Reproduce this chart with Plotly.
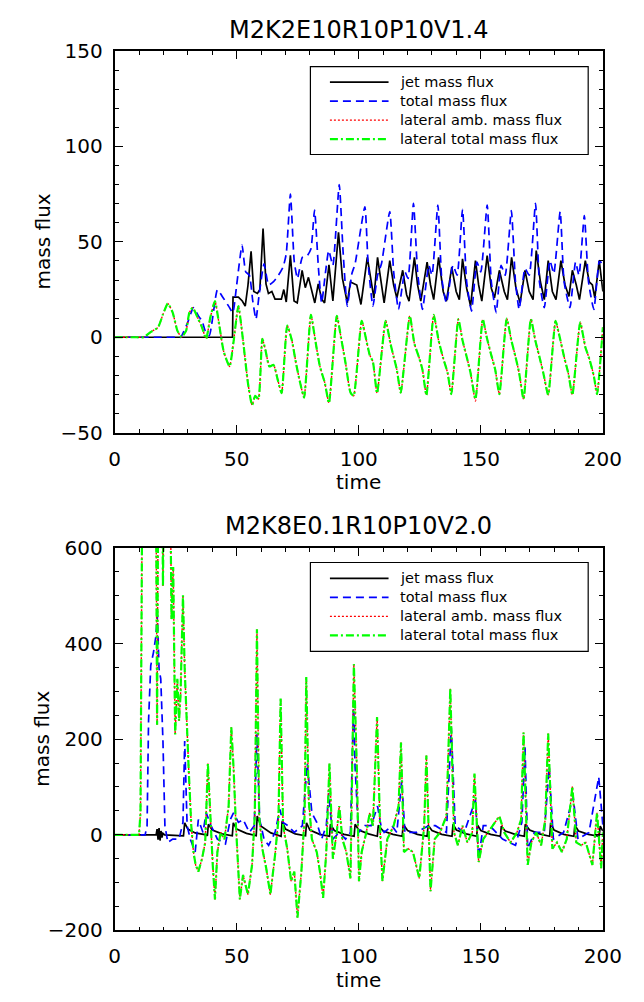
import plotly.graph_objects as go

# ---------------- data (time, value) ----------------
title_top = "M2K2E10R10P10V1.4"
title_bot = "M2K8E0.1R10P10V2.0"
series_names = ["jet mass flux", "total mass flux", "lateral amb. mass flux", "lateral total mass flux"]

x_ticks = [0, 50, 100, 150, 200]
y_ticks_top = [-50, 0, 50, 100, 150]
y_ticks_bot = [-200, 0, 200, 400, 600]

jet_top = [(0, 0), (48.3, 0), (48.5, 21), (50.7, 21), (52.3, 19), (53.5, 16.3), (54.6, 27), (55.9, 45),
           (57.0, 24), (58.5, 23), (59.5, 25), (60.8, 57), (62.0, 28), (63.0, 23), (64.4, 24), (65.7, 20),
           (68.3, 20), (69.3, 25), (70.3, 18.5), (72.0, 43), (73.5, 19), (74.8, 18), (76.8, 35), (78.1, 26),
           (79.4, 31.4), (80.7, 25), (82.0, 18), (83.4, 28), (84.8, 20), (86.0, 18), (87.8, 38), (89.4, 19),
           (91.7, 55), (93.3, 31), (95.3, 18), (96.6, 29), (99.2, 27.4), (100.9, 17.2), (103.5, 41.9),
           (104.9, 30.8), (106.2, 20.6), (107.7, 41.9), (109.3, 29.1), (110.4, 18.0), (112.7, 40.2),
           (114.3, 27.4), (115.6, 20.6), (118.0, 35.1), (119.6, 22.3), (120.6, 18.9), (122.8, 41.9),
           (124.1, 27.4), (125.4, 18.9), (128.0, 39.4), (129.4, 27.4), (130.7, 19.7), (132.7, 41.9),
           (134.6, 24.0), (135.9, 18.9), (138.1, 36.8), (139.9, 24.0), (141.2, 19.7), (142.5, 41.1),
           (144.2, 25.7), (145.8, 16.3), (147.8, 40.2), (149.1, 27.4), (150.4, 18.9), (152.6, 42.8),
           (154.3, 25.7), (155.6, 20.6), (157.6, 35.1), (159.6, 24.0), (160.9, 19.7), (162.6, 41.9),
           (164.4, 25.7), (166.1, 18.0), (168.1, 35.1), (169.8, 24.0), (171.4, 19.7), (172.7, 45.4),
           (174.4, 29.1), (176.0, 19.7), (177.6, 40.2), (179.3, 24.0), (180.8, 19.7), (182.8, 40.2),
           (184.5, 27.4), (186.1, 21.4), (187.5, 35.1), (189.1, 27.4), (190.4, 19.7), (192.8, 40.2),
           (194.4, 29.1), (195.7, 27.4), (196.7, 20.6), (198.5, 40.2), (200, 24.0)]

total_top = [(0, 0), (20.0, 0), (25.0, 0), (27.0, 0), (29.7, 7), (32.3, 15.5), (34.3, 11.2), (35.8, 8.6),
             (37.1, 3.5), (38.8, 0.9),
             (42.1, 24.9), (44.1, 21.4), (46.7, 16.3), (48.4, 12.9), (50.0, 27.4), (52.2, 48.3), (53.7, 34.3),
             (55.2, 32.5), (56.6, 18.9), (57.9, 9.5), (59.2, 22.3), (61.2, 38.5), (63.1, 27.4), (65.1, 29.1),
             (67.1, 32.5), (69.0, 36.8), (70.3, 43.7), (72.0, 75), (73.6, 39.4), (74.9, 30.8), (76.9, 41.9),
             (78.9, 42.8), (80.4, 46.2), (81.9, 66.7), (83.5, 36.0), (84.8, 18.0), (86.4, 34.3), (87.7, 45.4),
             (89.4, 37.7), (92.0, 80), (93.6, 44.5), (95.3, 16.3), (97.2, 33.4), (98.5, 38.5), (102.5, 68.4),
             (103.8, 39.4), (105.8, 16.3), (107.7, 32.5), (109.3, 38.5), (112.7, 65.9), (114.3, 34.3),
             (116.3, 14.6), (118.9, 34.3), (120.2, 30.8), (122.4, 70.2), (124.1, 34.3), (126.1, 14.6),
             (128.7, 37.7), (130.0, 32.5), (132.4, 69.3), (134.0, 30.8), (135.9, 18.0), (138.6, 37.7),
             (140.3, 32.5), (142.5, 67.1), (144.2, 29.1), (146.2, 13.7), (148.4, 39.4), (150.0, 34.3),
             (152.6, 69.3), (154.3, 29.1), (156.3, 12.9), (158.3, 37.7), (160.0, 32.5), (162.5, 66.4),
             (164.2, 29.1), (165.7, 14.6), (168.1, 36.0), (169.8, 32.5), (172.4, 70.2), (174.0, 29.1),
             (176.0, 15.5), (178.3, 40.2), (179.9, 33.4), (182.5, 65.9), (184.1, 29.1), (186.5, 15.5),
             (188.8, 39.4), (190.2, 32.5), (192.4, 63.7), (194.1, 29.1), (196.3, 14.6), (198.6, 40.2),
             (200, 37.7)]

lat_total_top = [(0, 0), (5.0, 0), (9.0, 0), (11.9, 0), (14.6, 2.6), (17.8, 5.2), (19.8, 12), (21.8, 17.7),
                 (23.8, 12.9),
                 (25.7, 3.5), (27.4, 0.1), (29.3, 3.5), (30.6, 12.9), (32.0, 15.5), (34.0, 10.3), (35.8, 5.2),
                 (37.5, -0.8), (39.2, 10.3), (41.1, 18.9), (42.8, 6.9), (44.7, -7.6), (47.1, -15.3),
                 (48.7, -2.5), (50.7, 16.3), (52.6, -1.6), (54.6, -23.9), (56.3, -35.5), (57.6, -30.7),
                 (58.9, -32.4), (60.5, -0.8), (61.8, -6.8), (63.4, -15.3), (65.1, -14.5), (66.8, -22.2),
                 (68.4, -29.3), (70.7, 6.1), (72.6, -1.6), (74.3, -13.6), (76.0, -23.9), (77.6, -31.6),
                 (80.4, 11.7), (82.2, -1.6), (84.1, -15.3), (86.1, -23.9), (87.8, -34.5), (91.0, 11.2),
                 (92.7, 0.1), (94.6, -13.6), (96.6, -29.0), (97.9, -30.7), (101.2, 8.6), (103.1, -1.6),
                 (104.5, -9.3), (105.8, -12.8), (107.5, -29.3), (111.0, 8.6), (113.0, -3.4), (114.3, -10.2),
                 (115.6, -17.0), (117.2, -29.0), (120.9, 11.2), (122.8, -3.4), (124.8, -11.0), (126.1, -17.0),
                 (127.7, -30.4), (130.7, 11.7), (132.7, -1.6), (134.6, -11.0), (136.4, -18.7), (137.9, -29.8),
                 (140.8, 9.5), (142.5, -1.6), (144.2, -10.2), (145.8, -18.7), (147.8, -32.4), (150.8, 9.5),
                 (152.4, 0.1), (154.1, -8.5), (155.9, -17.0), (157.6, -29.8), (160.6, 9.8), (162.5, -1.6),
                 (164.2, -10.2), (165.7, -18.7), (167.5, -32.4), (170.5, 9.5), (172.3, -1.6), (174.0, -10.2),
                 (175.6, -18.7), (177.6, -30.2), (180.6, 8.6), (182.3, 0.1), (184.1, -10.2), (185.8, -18.7),
                 (187.5, -30.2), (190.7, 7.8), (192.8, -5.1), (194.6, -11.9), (196.3, -20.4), (197.6, -29.8),
                 (200, 5.2)]
lat_amb_top = [(0, 0), (5.0, 0), (9.0, 0), (11.9, 0), (14.6, 2.6), (17.8, 5.2), (19.8, 12), (21.8, 17.7),
               (23.8, 12.9),
               (25.7, 3.5), (27.4, 0.1), (29.3, 3.5), (30.6, 12.9), (32.0, 15.5), (34.0, 10.3), (35.8, 5.2),
               (37.5, -0.8), (39.2, 10.3), (41.1, 18.9), (42.8, 6.9), (44.7, -7.6), (47.1, -15.3),
               (48.7, -2.5), (50.7, 16.3), (52.6, -1.6), (54.6, -23.9), (56.3, -35.5), (57.6, -30.7),
               (58.9, -32.4), (60.5, -0.8), (61.8, -6.8), (63.4, -15.3), (65.1, -14.5), (66.8, -22.2),
               (68.4, -29.3), (70.7, 6.1), (72.6, -1.6), (74.3, -13.6), (76.0, -23.9), (77.6, -31.6),
               (80.4, 11.7), (82.2, -1.6), (84.1, -15.3), (86.1, -23.9), (87.8, -34.5), (91.0, 11.2),
               (92.7, 0.1), (94.6, -13.6), (96.6, -29.0), (97.9, -30.7), (101.2, 8.6), (103.1, -1.6),
               (104.5, -9.3), (105.8, -12.8), (107.5, -29.3), (111.0, 8.6), (113.0, -3.4), (114.3, -10.2),
               (115.6, -17.0), (117.2, -29.0), (120.9, 11.2), (122.8, -3.4), (124.8, -11.0), (126.1, -17.0),
               (127.7, -30.4), (130.7, 11.7), (132.7, -1.6), (134.6, -11.0), (136.4, -18.7), (137.9, -29.8),
               (140.8, 9.5), (142.5, -1.6), (144.2, -10.2), (145.8, -18.7), (147.8, -33.4), (150.8, 9.5),
               (152.4, 0.1), (154.1, -8.5), (155.9, -17.0), (157.6, -29.8), (160.6, 9.8), (162.5, -1.6),
               (164.2, -10.2), (165.7, -18.7), (167.5, -32.4), (170.5, 9.5), (172.3, -1.6), (174.0, -10.2),
               (175.6, -18.7), (177.6, -30.2), (180.6, 8.6), (182.3, 0.1), (184.1, -10.2), (185.8, -18.7),
               (187.5, -30.2), (190.7, 7.8), (192.8, -5.1), (194.6, -11.9), (196.3, -20.4), (197.6, -29.8),
               (200, 5.2)]

jet_bot = [(0, 0), (17.0, 0), (17.4, 12), (17.8, -10), (18.2, 14), (18.6, -12), (19.0, 8), (19.4, -6),
           (19.8, 3), (20.5, 0), (28.2, -2), (28.7, 25), (30, 12), (33, 4), (37.5, 0), (38.0, -2), (38.4, 22),
           (40, 10), (44, 2), (48.2, -2), (48.6, 25), (50, 12), (54, 3), (58.0, -2), (58.4, 39), (60, 18),
           (64, 4), (68.2, -3), (68.6, 28), (70, 12), (74, 2), (78.2, -2), (78.6, 25), (80, 10), (84, 1),
           (88.0, -3), (88.4, 22), (90, 9), (94, 1), (98.1, -3), (98.5, 22), (100, 10), (104, 2),
           (107.6, -3), (108.0, 20), (110, 8), (114, 1), (117.8, -3), (118.2, 22), (120, 9), (124, 1),
           (128.0, -3), (128.4, 20), (130, 9), (134, 1), (138.2, -3), (138.6, 22), (140, 10), (144, 2),
           (148.3, -3), (148.7, 20), (150, 9), (154, 1), (158.0, -3), (158.4, 18), (160, 8), (164, 1),
           (167.8, -3), (168.2, 22), (170, 10), (174, 2), (178.2, -3), (178.6, 25), (180, 10), (184, 1),
           (188.1, -3), (188.5, 20), (190, 8), (194, 1), (198.5, -3), (198.9, 18), (200, 8)]

total_bot = [(0, 0), (12.5, 0), (13.3, 19), (13.9, 238), (14.8, 354), (15.9, 381), (16.9, 415), (17.5, 460),
             (18.2, 347), (18.9, 326), (19.8, 196), (20.6, 19), (21.8, -16), (23.8, -9), (26.4, -9), (28.0, 26),
             (28.7, 196), (29.7, 19), (31.0, -9), (33.0, -36), (34.3, 32), (36.2, 5), (37.5, 46), (39.5, 19),
             (42.1, -9), (45.4, -19), (47.4, 32), (48.7, 46), (50.7, 26), (52.6, 32), (55.2, 5), (57.2, 19),
             (58.3, 210), (59.4, 32), (61.2, -9), (63.1, -22), (65.7, 5), (67.7, 53), (69.0, 26), (71.0, 19),
             (73.6, 5), (76.9, 19), (78.9, 149), (80.8, 46), (82.8, 26), (84.8, -9), (86.7, 19), (87.7, 87),
             (89.4, -9), (92.0, 5), (94.6, -9), (96.6, 5), (97.9, 279), (98.5, 142), (99.9, 5), (102.5, 19),
             (105.1, 19), (107.7, 60), (109.1, 19), (110.4, 5), (113.6, 19), (115.6, 5), (117.6, 114),
             (118.9, 5), (123.5, 5), (128.7, 19), (131.4, 19), (135.9, 5), (137.9, 224), (139.5, 19),
             (143.2, 5), (147.8, 73), (149.1, -50), (151.0, 19), (153.7, 19), (158.9, -9), (164.2, -22),
             (166.8, 26), (168.1, 183), (169.2, -29), (172.0, 5), (176.0, 5), (178.0, 142), (179.7, -9),
             (183.9, 5), (187.8, 80), (189.8, -9), (194.3, 5), (198.3, 121), (199.6, 26), (200, 19)]

lat_total_bot = [(0, 0), (10.0, 0), (10.6, 46), (11.5, 900), (16.8, 900), (17.4, 230), (18.0, 900),
                 (19.3, 900), (19.8, 520), (20.5, 900), (22.5, 900), (23.3, 450), (24.0, 560), (24.8, 210),
                 (25.7, 326), (26.4, 238), (27.0, 292), (28.0, 501), (28.7, 347), (29.7, 203), (30.3, 142),
                 (31.4, 19), (32.3, -36), (33.2, -63), (34.3, -77), (35.8, -50), (37.1, -16), (38.2, 149),
                 (39.2, 32), (40.2, -63), (41.1, -135), (42.1, -36), (43.4, 5), (45.0, -9), (46.7, 60),
                 (47.8, 225), (48.7, 142), (49.7, 19), (51.3, -135), (52.6, -84), (54.6, -125), (56.3, -63),
                 (57.4, 39), (58.3, 430), (59.2, 39), (60.5, -29), (62.1, -70), (63.8, -125), (65.7, -43),
                 (67.1, 32), (68.0, 285), (69.0, 19), (70.7, -29), (72.3, -97), (73.6, -77), (74.9, -173),
                 (76.5, -77), (77.8, 39), (78.5, 330), (79.5, 73), (80.8, -9), (82.8, -36), (84.1, -77),
                 (85.4, -132), (86.7, -36), (88.0, 149), (89.4, -50), (91.0, 5), (92.0, 60), (93.3, -9),
                 (94.9, -36), (96.6, -91), (98.0, 357), (99.2, 142), (100.1, -97), (101.2, -36), (103.1, 5),
                 (104.5, 46), (105.8, 19), (107.5, 246), (108.8, 5), (109.7, -97), (111.7, -9), (114.3, 19),
                 (116.3, 60), (117.3, 193), (118.5, -36), (120.2, -29), (122.2, -36), (124.8, -91),
                 (126.8, 19), (127.7, 166), (129.4, -118), (131.1, -9), (133.3, 5), (135.9, 39), (137.5, 306),
                 (139.0, 5), (140.6, -22), (142.5, 19), (144.5, -16), (146.5, 5), (147.4, 128), (149.1, -57),
                 (151.0, -9), (153.0, 5), (155.0, 19), (157.6, 39), (159.6, 5), (162.2, -16), (164.8, 5),
                 (166.5, 32), (167.5, 214), (169.2, -63), (170.7, -16), (172.7, 5), (174.7, -22), (176.4, 32),
                 (177.6, 212), (179.3, -29), (181.2, -16), (183.2, -36), (185.2, -9), (187.5, 101),
                 (189.1, -16), (191.1, -22), (193.0, -16), (195.7, -63), (197.6, 46), (199.3, -70), (200, 5)]
lat_amb_bot = [(0, 0), (10.0, 0), (10.6, 46), (11.5, 900), (16.8, 900), (17.4, 230), (18.0, 900),
               (19.3, 900), (19.8, 520), (20.5, 900), (22.5, 900), (23.3, 450), (24.0, 560), (24.8, 210),
               (25.7, 326), (26.4, 238), (27.0, 292), (28.0, 501), (28.7, 347), (29.7, 203), (30.3, 142),
               (31.4, 19), (32.3, -36), (33.2, -63), (34.3, -77), (35.8, -50), (37.1, -16), (38.2, 149),
               (39.2, 32), (40.2, -63), (41.1, -135), (42.1, -36), (43.4, 5), (45.0, -9), (46.7, 60),
               (47.8, 225), (48.7, 142), (49.7, 19), (51.3, -135), (52.6, -84), (54.6, -125), (56.3, -63),
               (57.4, 39), (58.3, 430), (59.2, 39), (60.5, -29), (62.1, -70), (63.8, -125), (65.7, -43),
               (67.1, 32), (68.0, 285), (69.0, 19), (70.7, -29), (72.3, -97), (73.6, -77), (74.9, -173),
               (76.5, -77), (77.8, 39), (78.5, 330), (79.5, 73), (80.8, -9), (82.8, -36), (84.1, -77),
               (85.4, -132), (86.7, -36), (88.0, 149), (89.4, -50), (91.0, 5), (92.0, 60), (93.3, -9),
               (94.9, -36), (96.6, -91), (98.0, 357), (99.2, 142), (100.1, -97), (101.2, -36), (103.1, 5),
               (104.5, 46), (105.8, 19), (107.5, 246), (108.8, 5), (109.7, -97), (111.7, -9), (114.3, 19),
               (116.3, 60), (117.3, 193), (118.5, -36), (120.2, -29), (122.2, -36), (124.8, -91),
               (126.8, 19), (127.7, 166), (129.4, -118), (131.1, -9), (133.3, 5), (135.9, 39), (137.5, 306),
               (139.0, 5), (140.6, -22), (142.5, 19), (144.5, -16), (146.5, 5), (147.4, 128), (149.1, -57),
               (151.0, -9), (153.0, 5), (155.0, 19), (157.6, 39), (159.6, 5), (162.2, -16), (164.8, 5),
               (166.5, 32), (167.5, 214), (169.2, -63), (170.7, -16), (172.7, 5), (174.7, -22), (176.4, 32),
               (177.6, 212), (179.3, -29), (181.2, -16), (183.2, -36), (185.2, -9), (187.5, 101),
               (189.1, -16), (191.1, -22), (193.0, -16), (195.7, -63), (197.6, 46), (199.3, -70), (200, 5)]

# ---------------- styling ----------------
W, H = 644, 1002
FONT = "DejaVu Sans"
colors = ["#000000", "#0000ff", "#ff0000", "#00ff00"]
dashes = ["solid", "8px,5px", "2px,2px", "8px,3px,2px,3px"]
widths = [1.7, 1.7, 1.4, 2.2]

PL, PR = 113, 621
TOP = (40, 431)
BOT = (549, 941)


def py(px):
    return 1 - px / H


fig = go.Figure()


def add_panel(series, xa, ya, smooth):
    for i, (name, pts) in enumerate(zip(series_names, series)):
        xs = [p[0] for p in pts]
        ys = [p[1] for p in pts]
        shape = "spline" if (smooth and i > 0) else "linear"
        fig.add_trace(go.Scatter(
            x=xs, y=ys, mode="lines", name=name, xaxis=xa, yaxis=ya, showlegend=False,
            line=dict(color=colors[i], dash=dashes[i], width=widths[i], shape=shape,
                      smoothing=0.5 if shape == "spline" else None),
        ))


add_panel([jet_top, total_top, lat_amb_top, lat_total_top], "x", "y", True)
add_panel([jet_bot, total_bot, lat_amb_bot, lat_total_bot], "x2", "y2", False)

axis_common = dict(
    showline=True, linecolor="black", linewidth=1.8, mirror="ticks",
    ticks="inside", ticklen=8, tickwidth=1.4, tickcolor="black",
    showgrid=False, zeroline=False,
    tickfont=dict(family=FONT, size=20, color="black"),
)
minor_x = dict(dtick=10, ticklen=4, ticks="inside", tickcolor="black", tickwidth=1.2)

xdom = [PL / W, PR / W]
fig.update_layout(
    width=W, height=H, margin=dict(l=0, r=0, t=0, b=0),
    paper_bgcolor="white", plot_bgcolor="white",
    showlegend=False,
    xaxis=dict(domain=xdom, range=[0, 200], tickvals=x_ticks, anchor="y", ticklabelstandoff=7,
               minor=minor_x, **axis_common),
    yaxis=dict(domain=[py(TOP[1]), py(TOP[0])], range=[-50, 150], tickvals=y_ticks_top, anchor="x",
               ticklabelstandoff=6,
               minor=dict(dtick=10, ticklen=4, ticks="inside", tickcolor="black", tickwidth=1.2),
               **axis_common),
    xaxis2=dict(domain=xdom, range=[0, 200], tickvals=x_ticks, anchor="y2", ticklabelstandoff=7,
                minor=minor_x, **axis_common),
    yaxis2=dict(domain=[py(BOT[1]), py(BOT[0])], range=[-200, 600], tickvals=y_ticks_bot, anchor="x2",
                ticklabelstandoff=6,
                minor=dict(dtick=50, ticklen=4, ticks="inside", tickcolor="black", tickwidth=1.2),
                **axis_common),
)

# legend: frame, sample lines and labels (IDL-style legend box)
ann = []
LEG_X0, LEG_X1 = 316.7, 605.7
SAMPLE_X0, SAMPLE_X1, TEXT_X = 337, 398, 409
ROW_GAP = 19.5
for (y0, y1) in [(56, 146), (564, 655)]:
    yc = (y0 + y1) / 2
    rows = [yc + (k - 1.5) * ROW_GAP for k in range(4)]
    fig.add_shape(type="rect", xref="paper", yref="paper",
                  x0=LEG_X0 / W, x1=LEG_X1 / W, y0=py(y1), y1=py(y0),
                  line=dict(color="black", width=1.2), fillcolor="rgba(0,0,0,0)")
    for i, (name, ry) in enumerate(zip(series_names, rows)):
        fig.add_shape(type="line", xref="paper", yref="paper",
                      x0=SAMPLE_X0 / W, x1=SAMPLE_X1 / W, y0=py(ry), y1=py(ry),
                      line=dict(color=colors[i], dash=dashes[i], width=widths[i]))
        ann.append(dict(text=name, x=TEXT_X / W, y=py(ry), xref="paper", yref="paper",
                        showarrow=False, xanchor="left", yanchor="middle", borderpad=0,
                        font=dict(family=FONT, size=14.5, color="black")))

# titles and axis titles
for title, (t0, t1), ty in [(title_top, TOP, 18), (title_bot, BOT, 527)]:
    ann.append(dict(text=title, x=(PL + PR) / 2 / W, y=py(ty), xref="paper", yref="paper",
                    showarrow=False, xanchor="center", yanchor="middle",
                    font=dict(family=FONT, size=24, color="black")))
    ann.append(dict(text="mass flux", x=38 / W, y=py((t0 + t1) / 2), xref="paper", yref="paper",
                    showarrow=False, textangle=-90, xanchor="center", yanchor="middle",
                    font=dict(family=FONT, size=20, color="black")))
    ann.append(dict(text="time", x=(PL + PR) / 2 / W, y=py(t1 + 51), xref="paper", yref="paper",
                    showarrow=False, xanchor="center", yanchor="middle",
                    font=dict(family=FONT, size=20, color="black")))
fig.update_layout(annotations=ann)

fig.write_html("out.html")
